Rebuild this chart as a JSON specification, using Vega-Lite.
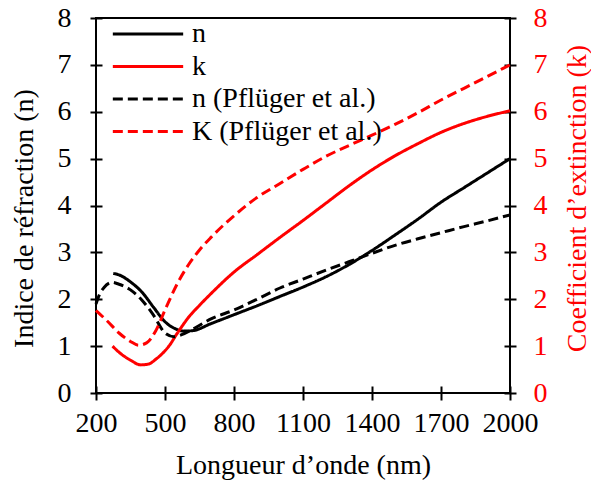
{
  "$schema": "https://vega.github.io/schema/vega-lite/v6.json",
  "width": 414,
  "height": 375,
  "autosize": "none",
  "padding": {"left": 96, "top": 18, "right": 81, "bottom": 89},
  "background": "white",
  "config": {
    "font": "Liberation Serif",
    "view": {"stroke": "black", "strokeWidth": 2},
    "axis": {"grid": false, "labelFontSize": 28, "titleFontSize": 28, "titleFontWeight": "normal", "labelColor": "black", "titleColor": "black", "tickColor": "black", "tickWidth": 2, "domain": false, "labelFont": "Liberation Serif", "titleFont": "Liberation Serif", "labelOverlap": false, "labelFlush": false, "format": "d"}
  },
  "datasets": {
    "curves": [
      {"wl": 275, "v": 2.55, "s": "n"}, {"wl": 300, "v": 2.52, "s": "n"}, {"wl": 350, "v": 2.37, "s": "n"}, {"wl": 400, "v": 2.15, "s": "n"}, {"wl": 450, "v": 1.83, "s": "n"}, {"wl": 500, "v": 1.52, "s": "n"}, {"wl": 550, "v": 1.36, "s": "n"}, {"wl": 580, "v": 1.32, "s": "n"}, {"wl": 620, "v": 1.33, "s": "n"}, {"wl": 700, "v": 1.48, "s": "n"}, {"wl": 800, "v": 1.67, "s": "n"}, {"wl": 900, "v": 1.86, "s": "n"}, {"wl": 1000, "v": 2.06, "s": "n"}, {"wl": 1100, "v": 2.26, "s": "n"}, {"wl": 1200, "v": 2.48, "s": "n"}, {"wl": 1300, "v": 2.74, "s": "n"}, {"wl": 1400, "v": 3.04, "s": "n"}, {"wl": 1500, "v": 3.37, "s": "n"}, {"wl": 1600, "v": 3.71, "s": "n"}, {"wl": 1700, "v": 4.07, "s": "n"}, {"wl": 1800, "v": 4.38, "s": "n"}, {"wl": 1900, "v": 4.69, "s": "n"}, {"wl": 2000, "v": 5.0, "s": "n"},
      {"wl": 272, "v": 1.0, "s": "k"}, {"wl": 300, "v": 0.87, "s": "k"}, {"wl": 350, "v": 0.7, "s": "k"}, {"wl": 395, "v": 0.6, "s": "k"}, {"wl": 430, "v": 0.62, "s": "k"}, {"wl": 460, "v": 0.72, "s": "k"}, {"wl": 500, "v": 0.9, "s": "k"}, {"wl": 520, "v": 1.02, "s": "k"}, {"wl": 550, "v": 1.25, "s": "k"}, {"wl": 575, "v": 1.43, "s": "k"}, {"wl": 600, "v": 1.6, "s": "k"}, {"wl": 650, "v": 1.87, "s": "k"}, {"wl": 700, "v": 2.12, "s": "k"}, {"wl": 800, "v": 2.58, "s": "k"}, {"wl": 900, "v": 2.95, "s": "k"}, {"wl": 1000, "v": 3.32, "s": "k"}, {"wl": 1100, "v": 3.68, "s": "k"}, {"wl": 1200, "v": 4.05, "s": "k"}, {"wl": 1300, "v": 4.42, "s": "k"}, {"wl": 1400, "v": 4.76, "s": "k"}, {"wl": 1500, "v": 5.06, "s": "k"}, {"wl": 1600, "v": 5.32, "s": "k"}, {"wl": 1700, "v": 5.56, "s": "k"}, {"wl": 1800, "v": 5.75, "s": "k"}, {"wl": 1900, "v": 5.9, "s": "k"}, {"wl": 2000, "v": 6.02, "s": "k"},
      {"wl": 200, "v": 1.9, "s": "n (Pflüger et al.)"}, {"wl": 215, "v": 2.1, "s": "n (Pflüger et al.)"}, {"wl": 235, "v": 2.25, "s": "n (Pflüger et al.)"}, {"wl": 270, "v": 2.36, "s": "n (Pflüger et al.)"}, {"wl": 300, "v": 2.32, "s": "n (Pflüger et al.)"}, {"wl": 350, "v": 2.2, "s": "n (Pflüger et al.)"}, {"wl": 400, "v": 1.98, "s": "n (Pflüger et al.)"}, {"wl": 450, "v": 1.66, "s": "n (Pflüger et al.)"}, {"wl": 500, "v": 1.28, "s": "n (Pflüger et al.)"}, {"wl": 540, "v": 1.2, "s": "n (Pflüger et al.)"}, {"wl": 570, "v": 1.24, "s": "n (Pflüger et al.)"}, {"wl": 620, "v": 1.36, "s": "n (Pflüger et al.)"}, {"wl": 700, "v": 1.58, "s": "n (Pflüger et al.)"}, {"wl": 800, "v": 1.77, "s": "n (Pflüger et al.)"}, {"wl": 900, "v": 2.0, "s": "n (Pflüger et al.)"}, {"wl": 1000, "v": 2.24, "s": "n (Pflüger et al.)"}, {"wl": 1100, "v": 2.43, "s": "n (Pflüger et al.)"}, {"wl": 1200, "v": 2.62, "s": "n (Pflüger et al.)"}, {"wl": 1300, "v": 2.8, "s": "n (Pflüger et al.)"}, {"wl": 1400, "v": 2.98, "s": "n (Pflüger et al.)"}, {"wl": 1500, "v": 3.15, "s": "n (Pflüger et al.)"}, {"wl": 1600, "v": 3.29, "s": "n (Pflüger et al.)"}, {"wl": 1700, "v": 3.42, "s": "n (Pflüger et al.)"}, {"wl": 1800, "v": 3.55, "s": "n (Pflüger et al.)"}, {"wl": 1900, "v": 3.67, "s": "n (Pflüger et al.)"}, {"wl": 2000, "v": 3.8, "s": "n (Pflüger et al.)"},
      {"wl": 200, "v": 1.76, "s": "K (Pflüger et al.)"}, {"wl": 250, "v": 1.53, "s": "K (Pflüger et al.)"}, {"wl": 300, "v": 1.28, "s": "K (Pflüger et al.)"}, {"wl": 350, "v": 1.1, "s": "K (Pflüger et al.)"}, {"wl": 385, "v": 1.02, "s": "K (Pflüger et al.)"}, {"wl": 420, "v": 1.07, "s": "K (Pflüger et al.)"}, {"wl": 460, "v": 1.33, "s": "K (Pflüger et al.)"}, {"wl": 500, "v": 1.77, "s": "K (Pflüger et al.)"}, {"wl": 550, "v": 2.3, "s": "K (Pflüger et al.)"}, {"wl": 600, "v": 2.72, "s": "K (Pflüger et al.)"}, {"wl": 650, "v": 3.05, "s": "K (Pflüger et al.)"}, {"wl": 700, "v": 3.32, "s": "K (Pflüger et al.)"}, {"wl": 800, "v": 3.78, "s": "K (Pflüger et al.)"}, {"wl": 900, "v": 4.17, "s": "K (Pflüger et al.)"}, {"wl": 1000, "v": 4.47, "s": "K (Pflüger et al.)"}, {"wl": 1100, "v": 4.77, "s": "K (Pflüger et al.)"}, {"wl": 1200, "v": 5.05, "s": "K (Pflüger et al.)"}, {"wl": 1300, "v": 5.28, "s": "K (Pflüger et al.)"}, {"wl": 1400, "v": 5.5, "s": "K (Pflüger et al.)"}, {"wl": 1500, "v": 5.73, "s": "K (Pflüger et al.)"}, {"wl": 1600, "v": 5.98, "s": "K (Pflüger et al.)"}, {"wl": 1700, "v": 6.25, "s": "K (Pflüger et al.)"}, {"wl": 1800, "v": 6.5, "s": "K (Pflüger et al.)"}, {"wl": 1900, "v": 6.75, "s": "K (Pflüger et al.)"}, {"wl": 2000, "v": 7.0, "s": "K (Pflüger et al.)"}
    ]
  },
  "data": {"name": "curves"},
  "layer": [
    {
      "mark": {"type": "line", "strokeWidth": 3, "interpolate": "monotone"},
      "encoding": {
        "x": {"field": "wl", "type": "quantitative", "scale": {"domain": [200, 2000], "nice": false},
          "axis": {"title": "Longueur d’onde (nm)", "values": [200, 500, 800, 1100, 1400, 1700, 2000], "offset": -7, "tickSize": 14, "labelPadding": 9, "titlePadding": 14}},
        "y": {"field": "v", "type": "quantitative", "scale": {"domain": [0, 8], "nice": false},
          "axis": {"title": "Indice de réfraction (n)", "values": [0, 1, 2, 3, 4, 5, 6, 7, 8], "offset": -6, "tickSize": 12, "labelPadding": 19, "titleX": -78, "titleY": 200, "titleAngle": -90, "titleBaseline": "middle", "titleAlign": "center"}},
        "color": {"field": "s", "type": "nominal", "scale": {"domain": ["n", "k", "n (Pflüger et al.)", "K (Pflüger et al.)"], "range": ["#000000", "#FF0000", "#000000", "#FF0000"]},
          "legend": {"title": null, "orient": "none", "legendX": 38, "legendY": 2, "symbolType": "M-3,0H3", "symbolSize": 550, "symbolStrokeWidth": 3, "symbolFillColor": "transparent", "labelFontSize": 28, "labelFont": "Liberation Serif", "labelColor": "black", "labelLimit": 0, "rowPadding": 4.5, "labelOffset": 30, "symbolOffset": 0, "padding": 0}},
        "strokeDash": {"field": "s", "type": "nominal", "scale": {"domain": ["n", "k", "n (Pflüger et al.)", "K (Pflüger et al.)"], "range": [[1, 0], [1, 0], [10, 5], [10, 5]]},
          "legend": {"title": null, "orient": "none", "legendX": 38, "legendY": 2, "symbolType": "M-3,0H3", "symbolSize": 550, "symbolStrokeWidth": 3, "symbolFillColor": "transparent", "labelFontSize": 28, "labelFont": "Liberation Serif", "labelColor": "black", "labelLimit": 0, "rowPadding": 4.5, "labelOffset": 30, "symbolOffset": 0, "padding": 0}}
      }
    },
    {
      "mark": {"type": "line", "opacity": 0},
      "encoding": {
        "x": {"field": "wl", "type": "quantitative", "scale": {"domain": [200, 2000], "nice": false}},
        "y": {"field": "v", "type": "quantitative", "scale": {"domain": [0, 8], "nice": false},
          "axis": {"orient": "right", "title": "Coefficient d’extinction (k)", "values": [0, 1, 2, 3, 4, 5, 6, 7, 8], "offset": -6, "tickSize": 12, "labelPadding": 17, "labelColor": "#FF0000", "titleColor": "#FF0000", "titleX": 73, "titleY": 180, "titleAngle": -90, "titleBaseline": "middle", "titleAlign": "center"}},
        "detail": {"field": "s", "type": "nominal"}
      }
    }
  ],
  "resolve": {"scale": {"y": "independent"}}
}
